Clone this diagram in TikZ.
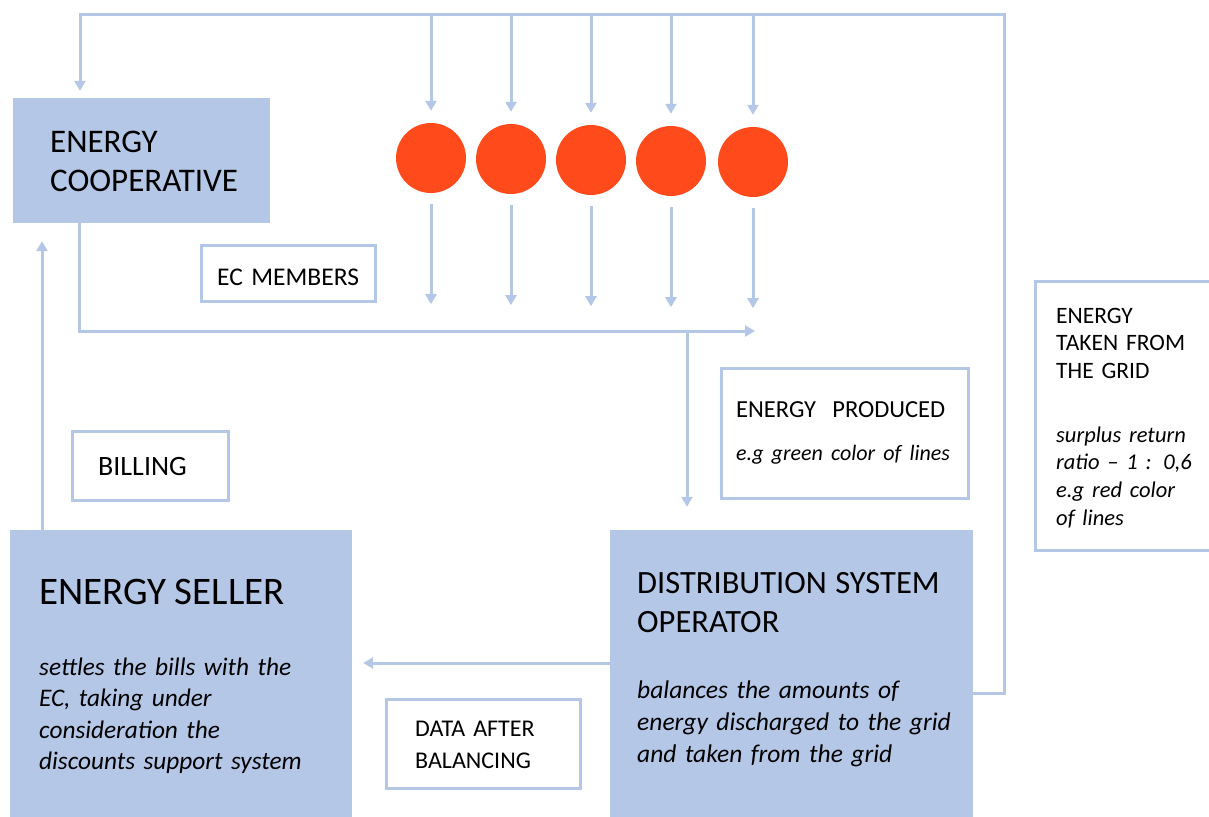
\documentclass[tikz,border=0pt]{standalone}
\usepackage{fontspec}
\setmainfont{Carlito}
\usetikzlibrary{arrows.meta}
\definecolor{lineblue}{RGB}{180,199,231}
\definecolor{dotred}{RGB}{255,74,28}

\begin{document}
\begin{tikzpicture}[x=1pt,y=-1pt,
  flow/.style={draw=lineblue,line width=3pt,-{Triangle[width=11pt,length=10pt]}},
  actor/.style={fill=lineblue,inner sep=0pt},
  tag/.style={draw=lineblue,line width=3pt,fill=white,inner sep=0pt},
  member/.style={circle,fill=dotred,minimum size=70pt,inner sep=0pt},
  txt/.style={anchor=base west,inner sep=0pt,text width=340pt,align=left}]
\useasboundingbox (0,0) rectangle (1209,816);

\node[actor,minimum width=257pt,minimum height=125pt] (coop) at (141.5,160.5) {};
\node[actor,minimum width=342pt,minimum height=326pt] (seller) at (181,693) {};
\node[actor,minimum width=363pt,minimum height=326pt] (dso) at (791.5,693) {};

\node[tag,minimum width=174pt,minimum height=56pt] (members) at (288.5,273.5) {};
\node[tag,minimum width=156pt,minimum height=69pt] (billing) at (150.5,466) {};
\node[tag,minimum width=194pt,minimum height=89pt] (data) at (483.5,744) {};
\node[tag,minimum width=247pt,minimum height=130pt] (produced) at (845,433.5) {};
\node[tag,minimum width=180pt,minimum height=269pt] (grid) at (1125,416) {};

\foreach \x/\y [count=\i] in {431/158,511/159,591/160,671/161,753/162}
  \node[member] (m\i) at (\x,\y) {};

\coordinate (gridtop) at (1004,15);
\coordinate (coophook) at (80,15);
\coordinate (coopfoot) at (79,331);
\coordinate (prodsplit) at (687,331);
\coordinate (prodend) at (755,331);
\coordinate (billline) at (42,0);

\draw[flow,shorten >=7pt] (dso.east) -- (dso.east -| gridtop) -- (gridtop) -- (coophook) -- (coophook |- coop.north);
\foreach \i in {1,...,5} \draw[flow,shorten >=12pt] (m\i |- gridtop) -- (m\i.north);
\foreach \i in {1,...,5} \draw[flow,shorten <=11pt] (m\i.south) -- ++(0,111);
\draw[flow] (coopfoot |- coop.south) -- (coopfoot) -- (prodend);
\draw[flow,shorten >=23pt] (prodsplit) -- (prodsplit |- dso.north);
\draw[flow,shorten >=18pt] (seller.north -| billline) -- (coop.south -| billline);
\draw[flow,shorten >=11pt] ([yshift=30pt]dso.west) -- ([yshift=30pt]seller.east);

\node[txt,font=\fontsize{33}{39.5}\selectfont] (cooptxt) at (50,152) {ENERGY\\COOPERATIVE};
\node[txt,font=\fontsize{25.5}{30}\selectfont] (memberstxt) at (217,285) {EC MEMBERS};
\node[txt,font=\fontsize{28}{33}\selectfont] (billingtxt) at (98,475) {BILLING};
\node[txt,font=\fontsize{24}{32}\selectfont] (datatxt) at (415,736) {DATA AFTER\\BALANCING};
\node[txt,font=\fontsize{25.3}{31.5}\selectfont] (sellertxt) at (39,604) {{\fontsize{39}{39}\selectfont ENERGY SELLER\par}\vspace{39.5pt}\itshape settles the bills with the\\EC, taking under\\consideration the\\discounts support system};
\node[txt,font=\fontsize{25.5}{32}\selectfont] (dsotxt) at (637,593) {{\fontsize{32.5}{39}\selectfont DISTRIBUTION SYSTEM\\OPERATOR\par}\vspace{34pt}\itshape balances the amounts of\\energy discharged to the grid\\and taken from the grid};
\node[txt,font=\fontsize{24.5}{29}\selectfont] (producedtxt) at (736,417) {ENERGY\ \ PRODUCED\par\vspace{14pt}\fontsize{22}{29}\selectfont\itshape e.g green color of lines};
\node[txt,font=\fontsize{23.5}{27.5}\selectfont] (gridtxt) at (1056,323) {ENERGY\\TAKEN FROM\\THE GRID\par\vspace{36.5pt}\fontsize{22.5}{27.7}\selectfont\itshape surplus return\\ratio -- 1 : 0,6\\e.g red color\\of lines};
\end{tikzpicture}
\end{document}
